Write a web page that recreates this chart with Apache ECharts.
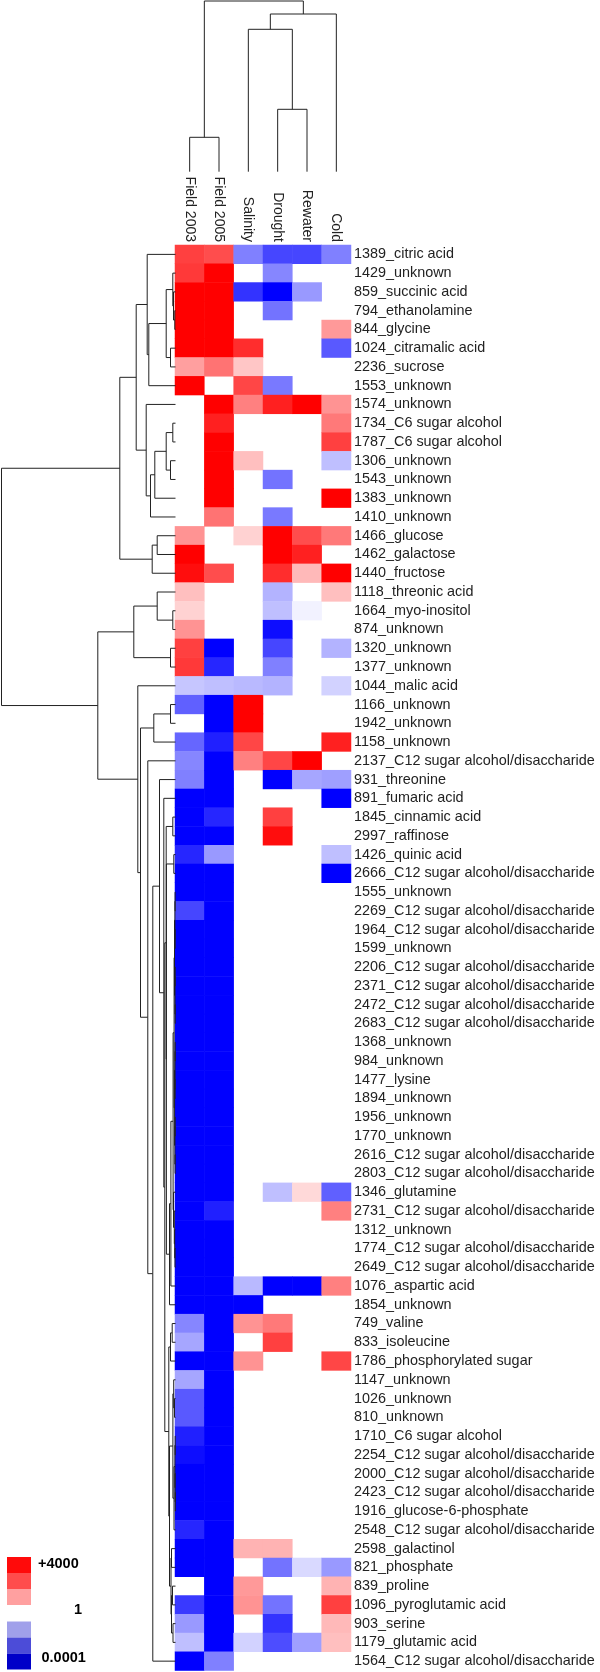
<!DOCTYPE html>
<html>
<head>
<meta charset="utf-8">
<script src="https://cdn.jsdelivr.net/npm/echarts@6/dist/echarts.min.js"></script>
<style>html,body{margin:0;padding:0;background:#fff}#c{width:600px;height:1672px}</style>
</head>
<body>
<div id="c"></div>
<script>
// Column (condition) names
const colNames = ['Field 2003', 'Field 2005', 'Salinity', 'Drought', 'Rewater', 'Cold'];

// Row (metabolite) labels, top to bottom
const rowLabels = [
 '1389_citric acid','1429_unknown','859_succinic acid','794_ethanolamine','844_glycine',
 '1024_citramalic acid','2236_sucrose','1553_unknown','1574_unknown','1734_C6 sugar alcohol',
 '1787_C6 sugar alcohol','1306_unknown','1543_unknown','1383_unknown','1410_unknown',
 '1466_glucose','1462_galactose','1440_fructose','1118_threonic acid','1664_myo-inositol',
 '874_unknown','1320_unknown','1377_unknown','1044_malic acid','1166_unknown',
 '1942_unknown','1158_unknown','2137_C12 sugar alcohol/disaccharide','931_threonine','891_fumaric acid',
 '1845_cinnamic acid','2997_raffinose','1426_quinic acid','2666_C12 sugar alcohol/disaccharide','1555_unknown',
 '2269_C12 sugar alcohol/disaccharide','1964_C12 sugar alcohol/disaccharide','1599_unknown','2206_C12 sugar alcohol/disaccharide','2371_C12 sugar alcohol/disaccharide',
 '2472_C12 sugar alcohol/disaccharide','2683_C12 sugar alcohol/disaccharide','1368_unknown','984_unknown','1477_lysine',
 '1894_unknown','1956_unknown','1770_unknown','2616_C12 sugar alcohol/disaccharide','2803_C12 sugar alcohol/disaccharide',
 '1346_glutamine','2731_C12 sugar alcohol/disaccharide','1312_unknown','1774_C12 sugar alcohol/disaccharide','2649_C12 sugar alcohol/disaccharide',
 '1076_aspartic acid','1854_unknown','749_valine','833_isoleucine','1786_phosphorylated sugar',
 '1147_unknown','1026_unknown','810_unknown','1710_C6 sugar alcohol','2254_C12 sugar alcohol/disaccharide',
 '2000_C12 sugar alcohol/disaccharide','2423_C12 sugar alcohol/disaccharide','1916_glucose-6-phosphate','2548_C12 sugar alcohol/disaccharide','2598_galactinol',
 '821_phosphate','839_proline','1096_pyroglutamic acid','903_serine','1179_glutamic acid',
 '1564_C12 sugar alcohol/disaccharide'
];

// log10 fold change per column (null = no change / blank cell)
const field2003 = [
 3.0, 3.1, 4, 4, 4, 4, 1.5, 4, null, null,
 null, null, null, null, null, 1.7, 4, 3.8, 1.0, 0.7,
 1.7, 3.0, 3.1, -0.9, -2.5, null, -2.4, -1.9, -2.0, -4,
 -4, -4, -3.4, -4, -4, -2.9, -4, -4, -4, -4,
 -4, -4, -4, -4, -4, -4, -4, -4, -4, -4,
 -4, -4, -4, -4, -4, -4, -4, -1.9, -1.4, -4,
 -1.4, -2.6, -2.6, -3.5, -3.8, -4, -4, -4, -3.4, -4,
 -4, null, -3.1, -1.6, -1.0, -4
];
const field2005 = [
 2.8, 4, 4, 4, 4, 4, 2.2, null, 4, 3.5,
 4, 4, 4, 4, 2.2, null, null, 2.8, null, null,
 null, -4, -3.4, -1.0, -4, -4, -3.5, -4, -4, -4,
 -3.4, -4, -1.6, -4, -4, -4, -4, -4, -4, -4,
 -4, -4, -4, -4, -4, -4, -4, -4, -4, -4,
 -4, -3.5, -4, -4, -4, -4, -4, -4, -4, -4,
 -4, -4, -4, -4, -4, -4, -4, -4, -4, -4,
 -4, -4, -4, -4, -4, -2.0
];
const salinity = [
 -2.0, null, -3.2, null, null, 3.3, 0.9, 2.9, 2.0, null,
 null, 1.0, null, null, null, 0.7, null, null, null, null,
 null, null, null, -1.1, 4, 4, 2.9, 2.0, null, null,
 null, null, null, null, null, null, null, null, null, null,
 null, null, null, null, null, null, null, null, null, null,
 null, null, null, null, null, -1.1, -4, 1.7, null, 1.7,
 null, null, null, null, null, null, null, null, null, 1.2,
 null, 1.6, 1.7, null, -0.7, null
];
const drought = [
 -2.9, -1.9, -4, -2.2, null, null, null, -2.1, 3.5, null,
 null, null, -2.2, null, -2.1, 4, 4, 3.3, -1.2, -1.0,
 -3.8, -2.9, -2.0, -1.2, null, null, null, 2.9, -4, null,
 3.0, 3.8, null, null, null, null, null, null, null, null,
 null, null, null, null, null, null, null, null, null, null,
 -1.0, null, null, null, null, -4, null, 2.1, 3.0, null,
 null, null, null, null, null, null, null, null, null, 1.2,
 -2.2, null, -2.2, -3.2, -2.8, null
];
const rewater = [
 -2.9, null, -1.6, null, null, null, null, null, 4, null,
 null, null, null, null, null, 2.8, 3.5, 1.1, null, -0.2,
 null, null, null, null, null, null, null, 4, -1.4, null,
 null, null, null, null, null, null, null, null, null, null,
 null, null, null, null, null, null, null, null, null, null,
 0.6, null, null, null, null, -4, null, null, null, null,
 null, null, null, null, null, null, null, null, null, null,
 -0.6, null, null, null, -1.5, null
];
const cold = [
 -2.0, null, null, null, 1.6, -2.6, null, null, 1.7, 2.1,
 3.0, -1.0, null, 4, null, 2.1, null, 4, 1.0, null,
 null, -1.2, null, -0.7, null, null, 3.5, null, -1.5, -4,
 null, null, -1.0, -4, null, null, null, null, null, null,
 null, null, null, null, null, null, null, null, null, null,
 -2.5, 2.0, null, null, null, 2.0, null, null, null, 2.9,
 null, null, null, null, null, null, null, null, null, null,
 -1.6, 1.2, 3.0, 1.1, 1.0, null
];

// Column dendrogram: [height, left, right], leaves = column index
const colTree = [170.7, [34.4, 0, 1], [157.7, [142.4, 2, [62.4, 3, 4]], 5]];

// Row dendrogram: [height, left, right], leaves = row index
const blueCore = [2.4,
  [1.4,
    [1.0, [0.6, [0.4, 34, 35], [0.3, 36, 37]], [0.5, [0.3, 38, 39], [0.3, 40, 41]]],
    [0.9, [0.5, [0.3, 42, 43], [0.4, 44, 45]], [0.6, [0.3, 46, 47], [0.4, 48, 49]]]],
  [2.0, 50, [1.2, 51, [0.8, 52, [0.5, 53, 54]]]]];
const blueLower = [2.6, [1.8, 60, [1.0, 61, 62]], [1.5, [0.6, [0.3, 63, 64], [0.4, 65, [0.2, 66, 67]]], 68]];
const rowTree = [174,
  [55.7,
    [39.3,
      [28.3, 0, [26.7, [9.3, [2.7, 1, [2, 2, [0.7, 3, 4]]], [5, 5, 6]], 7]],
      [29.3, 8, [25, [20.7, [9.3, [2.7, 9, 10], [5, 11, 12]], 13], 14]]],
    [23.3, [18.3, 15, 16], 17]],
  [77.7,
    [41.7, [18.3, 18, [2.7, 19, 20]], [5, 21, 22]],
    [37.7, 23,
      [35,
        [21.7, [5, 24, 25], 26],
        [27.7, 27,
          [22.7,
            [16, 28,
              [11.7, 29,
                [10.7,
                  [9.3, [2.7, 30, 31],
                    [9.1, [1.7, 32, 33],
                      [6, [4.6, blueCore, 55], 56]]],
                  [6.7, [5, [3.3, 57, 58], 59],
                    [6, blueLower, [4.5, [4, 69, 70], [4, [3, 71, 72], [2.5, 73, 74]]]]]]]],
            75]]]]]];

const columns = [field2003, field2005, salinity, drought, rewater, cold];
const heatData = [];
columns.forEach((col, j) => col.forEach((v, i) => { if (v !== null) heatData.push([j, i, v]); }));

function dendro(node, out, vertical) {
  if (typeof node === 'number') return { p: node + 0.5, h: 0 };
  const A = dendro(node[1], out, vertical), B = dendro(node[2], out, vertical), h = node[0];
  const pts = [[A.h, A.p], [h, A.p], [h, B.p], [B.h, B.p]];
  out.push({ coords: vertical ? pts.map(q => [q[1], q[0]]) : pts });
  return { p: (A.p + B.p) / 2, h };
}
const rowSegs = [], colSegs = [];
dendro(rowTree, rowSegs, false);
dendro(colTree, colSegs, true);

const FONT = '"Liberation Sans", Arial, sans-serif';
const nRows = rowLabels.length;
const cellH = 18.757;
const heatTop = 245, heatH = nRows * cellH;

const chart = echarts.init(document.getElementById('c'), null, { renderer: 'canvas' });
const lineStyle = { color: '#222', width: 1, opacity: 1, curveness: 0 };
chart.setOption({
  animation: false,
  backgroundColor: '#ffffff',
  grid: [
    { left: 175, top: heatTop, width: 176, height: heatH },
    { left: 0, top: heatTop, width: 175.5, height: heatH },
    { left: 175, top: 0, width: 176, height: 171.7 }
  ],
  xAxis: [
    { gridIndex: 0, type: 'category', data: colNames, position: 'top',
      axisLine: { show: false }, axisTick: { show: false }, splitLine: { show: false },
      axisLabel: { rotate: 90, margin: 3, fontSize: 14, color: '#222', fontFamily: FONT, interval: 0 } },
    { gridIndex: 1, type: 'value', min: 0, max: 175.5, inverse: true, show: false },
    { gridIndex: 2, type: 'value', min: 0, max: 6, show: false }
  ],
  yAxis: [
    { gridIndex: 0, type: 'category', data: rowLabels, inverse: true, position: 'right',
      axisLine: { show: false }, axisTick: { show: false }, splitLine: { show: false },
      axisLabel: { margin: 3, fontSize: 14.4, color: '#222', fontFamily: FONT, interval: 0, padding: [3, 0, 0, 0] } },
    { gridIndex: 1, type: 'value', min: 0, max: nRows, inverse: true, show: false },
    { gridIndex: 2, type: 'value', min: 0, max: 171.7, show: false }
  ],
  visualMap: { show: false, type: 'continuous', min: -4, max: 4, seriesIndex: 0,
    inRange: { color: ['#0000ff', '#ffffff', '#ff0000'] } },
  series: [
    { type: 'heatmap', xAxisIndex: 0, yAxisIndex: 0, data: heatData, silent: true,
      itemStyle: { borderWidth: 0 }, progressive: 0 },
    { type: 'lines', coordinateSystem: 'cartesian2d', xAxisIndex: 1, yAxisIndex: 1,
      polyline: true, data: rowSegs, lineStyle, silent: true, z: 3 },
    { type: 'lines', coordinateSystem: 'cartesian2d', xAxisIndex: 2, yAxisIndex: 2,
      polyline: true, data: colSegs, lineStyle, silent: true, z: 3 }
  ],
  graphic: [
    { type: 'rect', shape: { x: 7, y: 1557, width: 24, height: 16 }, style: { fill: '#ff0a0a' } },
    { type: 'rect', shape: { x: 7, y: 1573, width: 24, height: 16 }, style: { fill: '#ff4c4c' } },
    { type: 'rect', shape: { x: 7, y: 1589, width: 24, height: 16 }, style: { fill: '#ffa0a0' } },
    { type: 'rect', shape: { x: 7, y: 1621.5, width: 24, height: 16 }, style: { fill: '#a0a0ea' } },
    { type: 'rect', shape: { x: 7, y: 1637.5, width: 24, height: 16 }, style: { fill: '#4c4cd8' } },
    { type: 'rect', shape: { x: 7, y: 1653.5, width: 24, height: 16 }, style: { fill: '#0000c8' } },
    { type: 'text', x: 38, y: 1564, style: { text: '+4000', font: 'bold 14.5px ' + FONT, fill: '#000', verticalAlign: 'middle' } },
    { type: 'text', x: 74, y: 1610, style: { text: '1', font: 'bold 14.5px ' + FONT, fill: '#000', verticalAlign: 'middle' } },
    { type: 'text', x: 41.5, y: 1658, style: { text: '0.0001', font: 'bold 14.5px ' + FONT, fill: '#000', verticalAlign: 'middle' } }
  ]
});
</script>
</body>
</html>
